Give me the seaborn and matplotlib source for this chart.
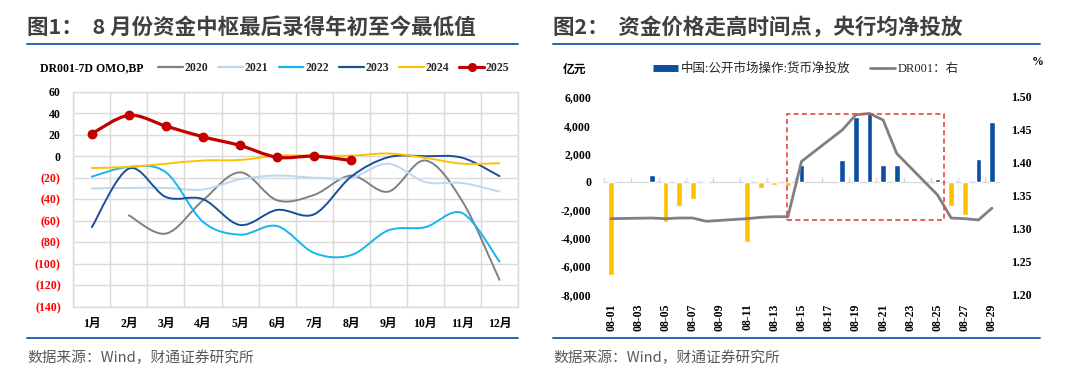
import numpy as np
import pandas as pd
import matplotlib
matplotlib.use("Agg")
import matplotlib.pyplot as plt
import seaborn as sns
from matplotlib.path import Path
from matplotlib.patches import PathPatch, Rectangle
from matplotlib.lines import Line2D

# ---------------- data: chart 1 ----------------
months = ['1月', '2月', '3月', '4月', '5月', '6月', '7月', '8月', '9月', '10月', '11月', '12月']
v2020 = [np.nan, -55, -72, -41, -15, -41, -36, -18, -33, -4, -42, -115]
v2021 = [-30, -29.5, -29.5, -31, -21.5, -18, -20, -20, -7, -24, -25, -33]
v2022 = [-19, -10, -15, -61, -73, -65, -90, -92, -69, -66, -53, -98]
v2023 = [-66, -11.5, -38, -40, -64, -50, -54, -19, -1, 0, -1.5, -18.5]
v2024 = [-11, -10, -7, -4, -3.5, 0.5, 0.5, 0.5, 2.5, -1.5, -7, -6.5]
v2025 = [21, 38, 28, 18, 10, -1, 0, -4]
series_names = ['2020', '2021', '2022', '2023', '2024', '2025']
y1_ticks = [60, 40, 20, 0, -20, -40, -60, -80, -100, -120, -140]

# ---------------- data: chart 2 ----------------
dates = ['08-%02d' % d for d in range(1, 30)]
trade_dates = ['08-01', '08-04', '08-05', '08-06', '08-07', '08-08', '08-11', '08-12', '08-13',
               '08-14', '08-15', '08-18', '08-19', '08-20', '08-21', '08-22', '08-25', '08-26',
               '08-27', '08-28', '08-29']
net_injection = [-6600, 450, -2900, -1750, -1250, -60, -4300, -450, -230, -350, 1150, 1550,
                 4550, 4950, 1200, 1200, 210, -1750, -2350, 1600, 4200]
dr001 = [1.315, 1.316, 1.315, 1.316, 1.316, 1.311, 1.315, 1.317, 1.318, 1.318, 1.402, 1.450,
         1.473, 1.475, 1.465, 1.414, 1.351, 1.316, 1.315, 1.313, 1.331]
y2_left_ticks = [6000, 4000, 2000, 0, -2000, -4000, -6000, -8000]
y2_right_ticks = [1.50, 1.45, 1.40, 1.35, 1.30, 1.25, 1.20]

# ---------------- style ----------------
sns.set_theme(style="white")
plt.rcParams['font.family'] = ['Liberation Serif', 'Noto Sans CJK SC', 'DejaVu Sans']
plt.rcParams['axes.unicode_minus'] = False

SERIF = ['Liberation Serif', 'Noto Sans CJK SC']
CJK = ['Noto Sans CJK SC', 'DejaVu Sans']
colors = {'2020': '#808080', '2021': '#BDD7EE', '2022': '#18B4F0',
          '2023': '#1A4E9C', '2024': '#FFC000', '2025': '#C00000'}
GRID = '#DADADA'

W, H = 1080, 378
fig = plt.figure(figsize=(W / 100, H / 100), dpi=100)


def fx(px):
    return px / W


def fy(py):
    return 1 - py / H


# titles, rules, sources
title_color = '#404040'
fig.text(fx(27), fy(27), '图1：  8 月份资金中枢最后录得年初至今最低值', fontsize=15.5,
         weight='bold', color=title_color, family=CJK, va='center', ha='left')
fig.text(fx(553), fy(27), '图2：  资金价格走高时间点，央行均净投放', fontsize=15.5,
         weight='bold', color=title_color, family=CJK, va='center', ha='left')
for x0, x1 in [(27, 518), (553, 1040)]:
    for yy in (44, 338):
        fig.add_artist(Line2D([fx(x0), fx(x1)], [fy(yy), fy(yy)], transform=fig.transFigure,
                              color='#2468B0', lw=1.4))
    fig.text(fx(x0), fy(358), '数据来源：Wind，财通证券研究所', fontsize=10.6, color='#595959',
             family=CJK, va='center', ha='left')

# ---------------- chart 1 ----------------
ax1 = fig.add_axes([fx(73.3), fy(306.7), fx(518 - 73.3), (306.7 - 91.7) / H])
xs = np.arange(len(months))


def smooth_path(x, y):
    pts = np.column_stack([x, y])
    pts = pts[~np.isnan(pts[:, 1])]
    n = len(pts)
    verts = [pts[0]]
    codes = [Path.MOVETO]
    for i in range(n - 1):
        p0 = pts[i - 1] if i > 0 else pts[i]
        p1 = pts[i]
        p2 = pts[i + 1]
        p3 = pts[i + 2] if i + 2 < n else pts[i + 1]
        verts += [p1 + (p2 - p0) / 6.0, p2 - (p3 - p1) / 6.0, p2]
        codes += [Path.CURVE4] * 3
    return Path(verts, codes)


all_series = [v2020, v2021, v2022, v2023, v2024, v2025]
for name, vals in zip(series_names, all_series):
    vals = np.asarray(vals, dtype=float)
    xx = xs[:len(vals)]
    lw = 2.3 if name == '2025' else 1.4
    ax1.add_patch(PathPatch(smooth_path(xx, vals), fill=False, edgecolor=colors[name], lw=lw,
                            zorder=3 if name != '2025' else 4, capstyle='round'))

df25 = pd.DataFrame({'x': xs[:len(v2025)], 'y': v2025})
sns.scatterplot(data=df25, x='x', y='y', ax=ax1, color=colors['2025'], s=50,
                edgecolor=colors['2025'], linewidth=0, zorder=5, legend=False)

ax1.set_xlim(-0.5, 11.5)
ax1.set_ylim(-140, 60)
ax1.set_xticks(xs)
ax1.set_xticklabels(months)
ax1.set_xticks(np.arange(-0.5, 12, 1), minor=True)
ax1.set_yticks(y1_ticks)
ax1.set_yticklabels([str(v) if v >= 0 else '(%d)' % abs(v) for v in y1_ticks])
for lab, v in zip(ax1.get_yticklabels(), y1_ticks):
    lab.set_color('#FF0000' if v < 0 else 'black')
    lab.set_fontweight('bold')
    lab.set_fontfamily(SERIF)
    lab.set_fontsize(8.5)
for lab in ax1.get_xticklabels():
    lab.set_fontweight('bold')
    lab.set_fontfamily(SERIF)
    lab.set_fontsize(8.5)
    lab.set_color('black')
ax1.tick_params(axis='y', length=0, pad=9)
ax1.tick_params(axis='x', which='both', length=0, pad=8)
ax1.grid(False)
ax1.xaxis.grid(True, which='minor', color=GRID, lw=1)
ax1.yaxis.grid(True, which='major', color=GRID, lw=1)
ax1.set_axisbelow(True)
for sp in ax1.spines.values():
    sp.set_color(GRID)
    sp.set_linewidth(1)
ax1.set_xlabel('')
ax1.set_ylabel('')

fig.text(fx(40), fy(67.7), 'DR001-7D OMO,BP', fontsize=8.5, weight='bold', family=SERIF,
         va='center', ha='left', color='black')
handles = []
for name in series_names:
    if name == '2025':
        handles.append(Line2D([], [], color=colors[name], lw=2.3, marker='o', markersize=5.5))
    else:
        handles.append(Line2D([], [], color=colors[name], lw=1.6))
fig.legend(handles, series_names, loc='center left', bbox_to_anchor=(fx(158), fy(67.7)),
           ncol=6, frameon=False, handlelength=2.1, handletextpad=0.15, columnspacing=0.85,
           borderpad=0, borderaxespad=0, prop={'family': SERIF, 'weight': 'bold', 'size': 8.5})

# ---------------- chart 2 ----------------
ax2 = fig.add_axes([fx(604.2), fy(294.3), fx(998.8 - 604.2), (294.3 - 97) / H])
df2 = pd.DataFrame({'date': trade_dates, 'net': net_injection, 'dr': dr001})
df2['sign'] = np.where(df2['net'] >= 0, 'pos', 'neg')
df2['idx'] = [dates.index(d) for d in trade_dates]
sns.barplot(data=df2, x='date', y='net', hue='sign', order=dates,
            palette={'pos': '#0B4EA2', 'neg': '#FFC000'}, dodge=False, width=0.42,
            errorbar=None, legend=False, ax=ax2, saturation=1)
ax2.set_xlim(-0.5, len(dates) - 0.5)
ax2.set_ylim(-8000, 6000)
ax2.set_yticks(y2_left_ticks)
ax2.set_yticklabels(['{:,.0f}'.format(v) for v in y2_left_ticks])
ax2.set_xticks(np.arange(0, len(dates), 2))
ax2.set_xticklabels(dates[::2], rotation=90)
for lab in ax2.get_xticklabels() + ax2.get_yticklabels():
    lab.set_fontweight('bold')
    lab.set_fontfamily(SERIF)
    lab.set_fontsize(8.5)
    lab.set_color('black')
ax2.tick_params(axis='y', length=0, pad=9.5)
ax2.tick_params(axis='x', length=0, pad=6.5)
ax2.grid(False)
for sp in ax2.spines.values():
    sp.set_visible(False)
ax2.set_xlabel('')
ax2.set_ylabel('')

zero_frac = (0 - (-8000)) / (6000 - (-8000))
sec = ax2.secondary_xaxis(zero_frac)
sec.set_xticks(np.arange(-0.5, len(dates), 2))
sec.tick_params(axis='x', length=3.5, color=GRID, width=1, labelbottom=False, labeltop=False,
                direction='out')
for sp in sec.spines.values():
    sp.set_color(GRID)
    sp.set_linewidth(1)

ax3 = ax2.twinx()
sns.lineplot(data=df2, x='idx', y='dr', ax=ax3, color='#808080', lw=2.0, legend=False,
             sort=False)
ax3.set_xlim(-0.5, len(dates) - 0.5)
ax3.set_ylim(1.20, 1.50)
ax3.set_yticks(y2_right_ticks)
ax3.set_yticklabels(['%.2f' % v for v in y2_right_ticks])
for lab in ax3.get_yticklabels():
    lab.set_fontweight('bold')
    lab.set_fontfamily(SERIF)
    lab.set_fontsize(8.5)
    lab.set_color('black')
ax3.tick_params(axis='y', length=0, pad=8.5)
ax3.grid(False)
for sp in ax3.spines.values():
    sp.set_visible(False)
ax3.set_xlabel('')
ax3.set_ylabel('')

# highlight box (left-axis coordinates)
box_x0, box_x1 = 12.95, 24.5
box_y0, box_y1 = -2750, 4800
ax3.add_patch(Rectangle((box_x0, box_y0), box_x1 - box_x0, box_y1 - box_y0,
                        transform=ax2.transData, fill=False, edgecolor='#E0474C', lw=1.2,
                        ls=(0, (3, 2)), zorder=6, clip_on=False))

fig.text(fx(563), fy(69), '亿元', fontsize=8.5, family=CJK, weight='bold', va='center',
         ha='left', color='black')
fig.text(fx(1038), fy(62), '%', fontsize=8.5, family=SERIF, weight='bold', va='center',
         ha='center', color='black')

h2 = [Line2D([], [], color='#0B4EA2', lw=5, solid_capstyle='butt'),
      Line2D([], [], color='#808080', lw=2.0)]
fig.legend(h2, ['中国:公开市场操作:货币净投放', 'DR001：右'], loc='center left',
           bbox_to_anchor=(fx(653), fy(69)), ncol=2, frameon=False, handlelength=2.0,
           handletextpad=0.2, columnspacing=1.6, borderpad=0, borderaxespad=0,
           prop={'family': SERIF, 'size': 9})

fig.savefig('out.png', dpi=100)
